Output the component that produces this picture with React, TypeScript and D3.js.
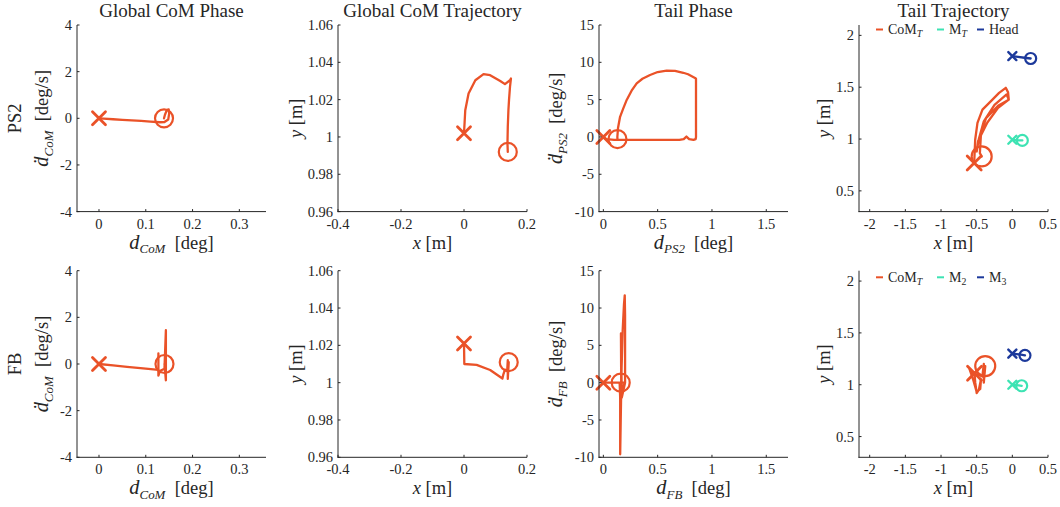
import React from 'react';
import * as d3 from 'd3';

const ORANGE = '#EA5228';
const TEAL = '#3DE3B3';
const NAVY = '#1C399B';
const AX = '#262626';
const FONT = '"Liberation Serif", "DejaVu Serif", serif';

// ---------- axis ticks ----------
const comPhaseXTicks = [0, 0.1, 0.2, 0.3];
const comPhaseYTicks = [-4, -2, 0, 2, 4];
const comTrajXTicks = [-0.4, -0.2, 0, 0.2];
const comTrajYTicks = [0.96, 0.98, 1, 1.02, 1.04, 1.06];
const tailPhaseXTicks = [0, 0.5, 1, 1.5];
const tailPhaseYTicks = [-10, -5, 0, 5, 10, 15];
const tailTrajXTicks = [-2, -1.5, -1, -0.5, 0, 0.5];
const tailTrajYTicks = [0.5, 1, 1.5, 2];

// ---------- PS2 row ----------
const ps2ComPhaseX = [0, 0.01, 0.03, 0.05, 0.07, 0.09, 0.11, 0.13, 0.14, 0.148, 0.15, 0.149, 0.145, 0.141, 0.139];
const ps2ComPhaseY = [0, -0.015, -0.04, -0.065, -0.09, -0.11, -0.14, -0.17, -0.16, -0.05, 0.2, 0.38, 0.35, 0.15, 0];

const ps2ComTrajX = [0, 0.002, 0.004, 0.0145, 0.036, 0.062, 0.083, 0.115, 0.13, 0.146, 0.149, 0.146, 0.143, 0.141, 0.139, 0.138, 0.139];
const ps2ComTrajY = [1.002, 1.008, 1.0143, 1.0233, 1.0304, 1.0337, 1.0331, 1.03, 1.0283, 1.0304, 1.0313, 1.0268, 1.02, 1.0143, 1.0053, 0.9965, 0.992];

const ps2TailPhaseX = [0, 0.03, 0.1, 0.4, 0.7, 0.74, 0.765, 0.79, 0.83, 0.85, 0.853, 0.853, 0.853, 0.844, 0.78, 0.736, 0.66, 0.583, 0.5, 0.43, 0.36, 0.307, 0.26, 0.215, 0.18, 0.154, 0.135, 0.129, 0.13];
const ps2TailPhaseY = [0, -0.3, -0.4, -0.4, -0.4, -0.3, 0.05, -0.3, -0.4, -0.3, 0, 4, 7.8, 7.9, 8.4, 8.6, 8.85, 8.88, 8.7, 8.3, 7.8, 7.19, 6.2, 4.96, 3.7, 2.7, 1.2, 0, -0.3];

const ps2TailComX = [-0.535, -0.528, -0.521, -0.489, -0.419, -0.279, -0.186, -0.092, -0.06, -0.05, -0.2, -0.35, -0.48, -0.5, -0.47, -0.4, -0.25, -0.08, -0.05, -0.2, -0.37, -0.44, -0.455, -0.43];
const ps2TailComY = [0.768, 0.88, 0.993, 1.155, 1.284, 1.38, 1.445, 1.494, 1.45, 1.38, 1.3, 1.16, 0.98, 0.88, 1.0, 1.17, 1.33, 1.43, 1.38, 1.32, 1.2, 1.05, 0.864, 0.832];
const ps2TailMX = [0, 0.04, 0.09, 0.14];
const ps2TailMY = [0.993, 0.99, 0.988, 0.987];
const ps2HeadX = [0, 0.08, 0.17, 0.257];
const ps2HeadY = [1.8, 1.792, 1.784, 1.777];

// ---------- FB row ----------
const fbComPhaseX = [0, 0.03, 0.06, 0.1, 0.127, 0.127, 0.127, 0.13, 0.14, 0.143, 0.143, 0.14];
const fbComPhaseY = [0, -0.06, -0.12, -0.2, -0.25, 0.45, -0.5, -0.3, -0.2, 1.45, -0.7, 0];

const fbComTrajX = [0, 0.001, 0.04, 0.083, 0.122, 0.125, 0.13, 0.137, 0.139, 0.139, 0.142];
const fbComTrajY = [1.021, 1.01, 1.0095, 1.0068, 1.0022, 1.0045, 1.007, 1.006, 1.012, 1.002, 1.011];

const fbTailPhaseX = [0, 0.1, 0.15, 0.155, 0.155, 0.16, 0.168, 0.178, 0.19, 0.197, 0.2, 0.2, 0.2, 0.17, 0.162, 0.165, 0.2, 0.16];
const fbTailPhaseY = [0, 0, 0, -2, -9.6, -5, 2, 7, 10.5, 11.7, 9, 4, 0, -2, 6.6, -1, 0, 0];

const fbTailComX = [-0.53, -0.52, -0.5, -0.47, -0.44, -0.45, -0.5, -0.55, -0.6, -0.53, -0.48, -0.42, -0.4, -0.4, -0.38];
const fbTailComY = [1.11, 1.02, 0.92, 0.95, 1.05, 0.96, 0.93, 1.05, 1.15, 1.1, 1.1, 1.08, 1.2, 1.02, 1.18];
const fbM2X = [0, 0.05, 0.09, 0.131];
const fbM2Y = [1.0, 0.996, 0.993, 0.99];
const fbM3X = [0, 0.06, 0.12, 0.177];
const fbM3Y = [1.3, 1.295, 1.29, 1.284];

// ---------- layout ----------
const colLeft = [77, 338, 599, 859];
const rowTop = [25, 270.7];
const plotW = 189;
const plotH = 186.6;

type Series = { xs: number[]; ys: number[]; color: string; big: boolean };

const cols = [
  { xd: [-0.047, 0.357], yd: [-4, 4], xt: comPhaseXTicks, yt: comPhaseYTicks, title: 'Global CoM Phase', yOff: 35 },
  { xd: [-0.4, 0.2], yd: [0.96, 1.06], xt: comTrajXTicks, yt: comTrajYTicks, title: 'Global CoM Trajectory', yOff: 42 },
  { xd: [-0.04, 1.7], yd: [-10, 15], xt: tailPhaseXTicks, yt: tailPhaseYTicks, title: 'Tail Phase', yOff: 43 },
  { xd: [-2.15, 0.5], yd: [0.3, 2.1], xt: tailTrajXTicks, yt: tailTrajYTicks, title: 'Tail Trajectory', yOff: 35 },
];

const rows: Series[][][] = [
  [
    [{ xs: ps2ComPhaseX, ys: ps2ComPhaseY, color: ORANGE, big: true }],
    [{ xs: ps2ComTrajX, ys: ps2ComTrajY, color: ORANGE, big: true }],
    [{ xs: ps2TailPhaseX, ys: ps2TailPhaseY, color: ORANGE, big: true }],
    [
      { xs: ps2TailComX, ys: ps2TailComY, color: ORANGE, big: true },
      { xs: ps2TailMX, ys: ps2TailMY, color: TEAL, big: false },
      { xs: ps2HeadX, ys: ps2HeadY, color: NAVY, big: false },
    ],
  ],
  [
    [{ xs: fbComPhaseX, ys: fbComPhaseY, color: ORANGE, big: true }],
    [{ xs: fbComTrajX, ys: fbComTrajY, color: ORANGE, big: true }],
    [{ xs: fbTailPhaseX, ys: fbTailPhaseY, color: ORANGE, big: true }],
    [
      { xs: fbTailComX, ys: fbTailComY, color: ORANGE, big: true },
      { xs: fbM2X, ys: fbM2Y, color: TEAL, big: false },
      { xs: fbM3X, ys: fbM3Y, color: NAVY, big: false },
    ],
  ],
];

const LS = 18.5; // label font size
const TTS = 19; // title font size
const TS = 14.5; // tick font size

function Sub({ sub, dot, size }: { sub: string; dot?: boolean; size: number }) {
  return (
    <>
      <tspan fontStyle="italic" fontSize={size * 1.1}>{dot ? 'd\u0307' : 'd'}</tspan>
      <tspan fontStyle="italic" fontSize={size * 0.7} dy={size * 0.25}>{sub}</tspan>
      <tspan dy={-size * 0.25}>{'\u00A0\u00A0[deg' + (dot ? '/s' : '') + ']'}</tspan>
    </>
  );
}

function xLabel(ci: number, ri: number) {
  if (ci === 0) return <Sub sub="CoM" size={LS} />;
  if (ci === 2) return <Sub sub={ri === 0 ? 'PS2' : 'FB'} size={LS} />;
  return (
    <>
      <tspan fontStyle="italic">x</tspan>
      <tspan>{'\u00A0[m]'}</tspan>
    </>
  );
}
function yLabel(ci: number, ri: number) {
  if (ci === 0) return <Sub sub="CoM" dot size={LS} />;
  if (ci === 2) return <Sub sub={ri === 0 ? 'PS2' : 'FB'} dot size={LS} />;
  return (
    <>
      <tspan fontStyle="italic">y</tspan>
      <tspan>{'\u00A0[m]'}</tspan>
    </>
  );
}

function Panel({ ci, ri }: { ci: number; ri: number }) {
  const c = cols[ci];
  const left = colLeft[ci];
  const top = rowTop[ri];
  const x = d3.scaleLinear().domain(c.xd).range([left, left + plotW]);
  const y = d3.scaleLinear().domain(c.yd).range([top + plotH, top]);
  const series = rows[ri][ci];
  const bottom = top + plotH;
  return (
    <g>
      {series.map((s, si) => {
        const pts: [number, number][] = s.xs.map((v, i) => [x(v), y(s.ys[i])]);
        const d = d3.line().curve(d3.curveLinear)(pts) || '';
        const [sx, sy] = pts[0];
        const [ex, ey] = pts[pts.length - 1];
        const hs = s.big ? (ci === 3 ? 7 : 6.5) : 4;
        const r = s.big ? (ci === 3 ? 10 : 9) : 5.5;
        return (
          <g key={si} stroke={s.color} fill="none" strokeLinejoin="round" strokeLinecap="round">
            <path d={d} strokeWidth={2.3} />
            <path d={`M${sx - hs},${sy - hs}L${sx + hs},${sy + hs}M${sx - hs},${sy + hs}L${sx + hs},${sy - hs}`} strokeWidth={s.big ? 2.8 : 2.4} />
            <circle cx={ex} cy={ey} r={r} strokeWidth={2.2} />
          </g>
        );
      })}
      <g stroke={AX} strokeWidth={1} fill="none">
        <line x1={left} x2={left} y1={top} y2={bottom + 0.5} />
        <line x1={left - 0.5} x2={left + plotW} y1={bottom} y2={bottom} />
        {c.xt.map((t) => (
          <line key={'xt' + t} x1={x(t)} x2={x(t)} y1={bottom} y2={bottom - 2.5} />
        ))}
        {c.yt.map((t) => (
          <line key={'yt' + t} x1={left} x2={left + 2.5} y1={y(t)} y2={y(t)} />
        ))}
      </g>
      <g fill={AX} fontFamily={FONT} fontSize={TS}>
        {c.xt.map((t) => (
          <text key={'xl' + t} x={x(t)} y={bottom + 17} textAnchor="middle">{String(t)}</text>
        ))}
        {c.yt.map((t) => (
          <text key={'yl' + t} x={left - 5} y={y(t)} dy="0.35em" textAnchor="end">{String(t)}</text>
        ))}
      </g>
      <g fill={AX} fontFamily={FONT} fontSize={LS}>
        <text x={left + plotW / 2} y={bottom + 37} textAnchor="middle">{xLabel(ci, ri)}</text>
        <text transform={`translate(${left - c.yOff},${top + plotH / 2}) rotate(-90)`} textAnchor="middle" dy="0.35em">{yLabel(ci, ri)}</text>
        {ri === 0 && (
          <text x={left + plotW / 2} y={17} textAnchor="middle" fontSize={TTS}>{c.title}</text>
        )}
      </g>
    </g>
  );
}

const legendPs2 = ['CoM', 'M', 'Head'];
const legendPs2Sub = ['T', 'T', ''];
const legendFb = ['CoM', 'M', 'M'];
const legendFbSub = ['T', '2', '3'];
const legendColors = [ORANGE, TEAL, NAVY];
const legendDx = [17, 78, 118];

function Legend({ ri }: { ri: number }) {
  const names = ri === 0 ? legendPs2 : legendFb;
  const subs = ri === 0 ? legendPs2Sub : legendFbSub;
  const yy = ri === 0 ? 29.5 : 277.3;
  const left = colLeft[3];
  const fs = 14;
  return (
    <g fontFamily={FONT} fontSize={fs} fill={AX}>
      {names.map((n, i) => (
        <g key={i}>
          <line x1={left + legendDx[i]} x2={left + legendDx[i] + 7} y1={yy} y2={yy} stroke={legendColors[i]} strokeWidth={2} />
          <text x={left + legendDx[i] + 12} y={yy} dy="0.35em">
            <tspan>{n}</tspan>
            {subs[i] && (
              <tspan fontSize={fs * 0.7} dy={3} fontStyle={subs[i] === 'T' ? 'italic' : 'normal'}>{subs[i]}</tspan>
            )}
          </text>
        </g>
      ))}
    </g>
  );
}

export default function App() {
  return (
    <svg width={1060} height={507} style={{ position: 'absolute', left: 0, top: 0, background: '#fff' }}>
      <rect width={1060} height={507} fill="#fff" />
      {[0, 1].map((ri) => [0, 1, 2, 3].map((ci) => <Panel key={ri + '-' + ci} ci={ci} ri={ri} />))}
      <Legend ri={0} />
      <Legend ri={1} />
      <g fontFamily={FONT} fontSize={LS} fill={AX}>
        <text transform={`translate(15,${rowTop[0] + plotH / 2}) rotate(-90)`} textAnchor="middle" dy="0.35em">PS2</text>
        <text transform={`translate(15,${rowTop[1] + plotH / 2}) rotate(-90)`} textAnchor="middle" dy="0.35em">FB</text>
      </g>
    </svg>
  );
}
